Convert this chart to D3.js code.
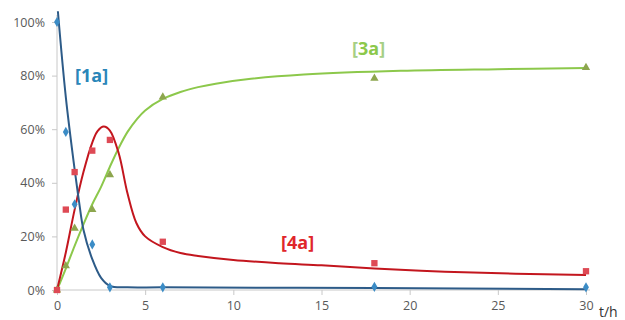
<!DOCTYPE html>
<html><head><meta charset="utf-8">
<script src="https://cdn.jsdelivr.net/npm/d3@7"></script>
<style>body{margin:0;background:#fff}svg{display:block}</style>
</head><body>
<svg id="c" width="625" height="320"></svg>
<script>
const xTicks = [0,5,10,15,20,25,30];
const yTicks = [0,20,40,60,80,100];
const times = [0,0.5,1,2,3,6,18,30];
const s1a = [100,59,32,17,1,1,1.2,1];
const s4a = [0,30,44,52,56,18,10,7];
const s3a = [0,9,23,30,43,72,79,83];
// fitted curves
const fit1a = [[0.05,104],[0.5,72],[1,45],[1.25,33],[1.5,22.5],[2,11.5],[2.5,4.5],[3,1.5],[4,1],[6,1],[18,0.7],[30,0.3]];
const fit4a = [[0,0],[0.5,14],[1,30],[1.5,44],[2,55],[2.3,59.3],[2.65,61],[3,59.5],[3.5,51],[4,36],[4.5,25],[5,20],[6,16],[7,13.8],[8,12.7],[10,11.2],[12.6,10],[15,9.2],[18,8],[22,6.8],[26,6.1],[30,5.6]];
const fit3a = [[0,0],[0.5,8],[1,16.5],[1.5,24.5],[2,32],[2.5,38.5],[3,46],[3.5,53],[4,59],[4.5,63.5],[5,67],[6,71.3],[7,73.9],[8,75.7],[9,77],[11,78.8],[14,80.4],[19.5,81.8],[25,82.4],[30,82.8]];

const svg = d3.select("#c");
const x = d3.scaleLinear().domain([0,30]).range([57,586]);
const y = d3.scaleLinear().domain([0,100]).range([290,22]);
const axisCol = "#c8c8c8";

// y axis
const ya = svg.append("g").attr("transform","translate(57,0)")
  .call(d3.axisLeft(y).tickValues(yTicks).tickFormat(d=>d+"%").tickSize(5).tickPadding(7));
ya.select(".domain").attr("stroke",axisCol).attr("d","M0,15V290");
ya.selectAll(".tick line").attr("stroke",axisCol);
ya.selectAll(".tick text").attr("fill","#595959").attr("font-family","Open Sans, sans-serif").attr("font-size",12.5);

// x axis
const xa = svg.append("g").attr("transform","translate(0,290)")
  .call(d3.axisBottom(x).tickValues(xTicks).tickSize(5).tickPadding(6));
xa.select(".domain").attr("stroke",axisCol).attr("d","M57,0H590");
xa.selectAll(".tick line").attr("stroke",axisCol);
xa.selectAll(".tick text").attr("fill","#595959").attr("font-family","Open Sans, sans-serif").attr("font-size",12.5);

svg.append("text").attr("x",599).attr("y",317).text("t/h")
  .attr("font-family","Open Sans, sans-serif").attr("font-size",14).attr("fill","#333");

const line = d3.line().x(d=>x(d[0])).y(d=>y(d[1])).curve(d3.curveCatmullRom.alpha(0.5));
svg.append("path").datum(fit3a).attr("d",line).attr("fill","none").attr("stroke","#8cc84b").attr("stroke-width",2);
svg.append("path").datum(fit4a).attr("d",line).attr("fill","none").attr("stroke","#c3161e").attr("stroke-width",2);
svg.append("path").datum(fit1a).attr("d",line).attr("fill","none").attr("stroke","#2d5b88").attr("stroke-width",2);

// markers
const sym = (type,size)=>d3.symbol().type(type).size(size)();
svg.append("g").selectAll("path").data(times).join("path")
  .attr("transform",(d,i)=>`translate(${x(d)},${y(s3a[i])})`)
  .attr("d",sym(d3.symbolTriangle,30)).attr("fill","#8da64e");
svg.append("g").selectAll("path").data(times).join("path")
  .attr("transform",(d,i)=>`translate(${x(d)},${y(s4a[i])})`)
  .attr("d",sym(d3.symbolSquare,40)).attr("fill","#de4a55");
svg.append("g").selectAll("path").data(times).join("path")
  .attr("transform",(d,i)=>`translate(${x(d)},${y(s1a[i])})`)
  .attr("d",sym(d3.symbolDiamond,30)).attr("fill","#3b8cc6");

// labels
const lab = (tx,ty,txt,col,brk)=>{
  const t = svg.append("text").attr("x",tx).attr("y",ty)
    .attr("font-family","Open Sans, sans-serif").attr("font-size",18).attr("font-weight","bold");
  t.append("tspan").text("[").attr("fill",brk);
  t.append("tspan").text(txt).attr("fill",col);
  t.append("tspan").text("]").attr("fill",brk);
};
lab(75,82,"1a","#2a86b9","#2a86b9");
lab(352,55,"3a","#8cc84b","#a6cf85");
lab(281,249,"4a","#e0262b","#e0262b");
</script>
</body></html>
